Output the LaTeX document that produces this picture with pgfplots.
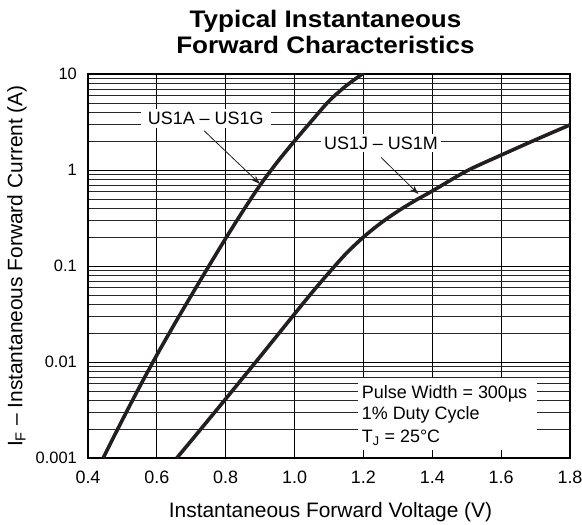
\documentclass[border=0pt]{standalone}
\usepackage{fontspec}
\setmainfont{Liberation Sans}
\newfontfamily\titlefont[FakeStretch=1.09]{Liberation Sans Bold}
\usepackage{pgfplots}
\pgfplotsset{compat=1.18}
\usetikzlibrary{arrows.meta}
\definecolor{curve}{HTML}{231F20}
\begin{document}
\begin{tikzpicture}
\begin{axis}[
  scale only axis, width=482bp, height=384bp,
  xmin=0.4, xmax=1.8, ymin=0.001, ymax=10, ymode=log,
  xtick={0.4,0.6,0.8,1.0,1.2,1.4,1.6,1.8},
  xticklabels={0.4,0.6,0.8,1.0,1.2,1.4,1.6,1.8},
  ytick={0.001,0.01,0.1,1,10},
  yticklabels={0.001,0.01,0.1,1,10},
  minor ytick={0.002,0.003,0.004,0.005,0.006,0.007,0.008,0.009,
               0.02,0.03,0.04,0.05,0.06,0.07,0.08,0.09,
               0.2,0.3,0.4,0.5,0.6,0.7,0.8,0.9,
               2,3,4,5,6,7,8,9},
  grid=both,
  major grid style={black, line width=0.8bp},
  minor grid style={black!85, line width=0.6bp},
  axis line style={line width=2.6bp},
  tick align=inside, major tick length=8bp, minor tick length=0bp,
  tick style={black, line width=0.8bp},
  /pgf/number format/assume math mode=true,
  xticklabel style={font=\fontsize{18}{18}\selectfont, anchor=north, inner sep=0pt, yshift=-13bp},
  yticklabel style={font=\fontsize{16.5}{16.5}\selectfont, anchor=east, inner sep=0pt, xshift=-11bp},
  xlabel={Instantaneous Forward Voltage (V)},
  ylabel={I\textsubscript{F} -- Instantaneous Forward Current (A)},
  every axis x label/.style={at={(rel axis cs:0.5,0)}, anchor=base, yshift=-59bp, xshift=1.5bp, font=\fontsize{21}{21}\selectfont},
  every axis y label/.style={at={(rel axis cs:0,0.5)}, xshift=-65.5bp, anchor=base, rotate=90, font=\fontsize{21}{21}\selectfont},
]
\addplot[curve, line width=3.6bp, smooth, tension=0.5] coordinates {
  (0.444,0.001) (0.50,0.0025) (0.55,0.00553) (0.60,0.01183) (0.65,0.02443)
  (0.70,0.0493) (0.75,0.0984) (0.80,0.1941) (0.85,0.374) (0.90,0.697)
  (0.95,1.211) (1.00,2.009) (1.05,3.258) (1.10,5.224) (1.15,7.551) (1.20,10.19)
};
\addplot[curve, line width=3.6bp, smooth, tension=0.5] coordinates {
  (0.658,0.001) (0.70,0.001517) (0.80,0.00413) (0.90,0.01138) (1.00,0.0317)
  (1.05,0.0526) (1.10,0.0853) (1.15,0.1352) (1.20,0.2) (1.25,0.2793)
  (1.30,0.3724) (1.35,0.4797) (1.40,0.604) (1.50,0.977) (1.60,1.429)
  (1.70,2.065) (1.80,2.951)
};
\coordinate (bl) at (rel axis cs:0,0);
\coordinate (tr) at (rel axis cs:1,1);
\coordinate (tc) at (rel axis cs:0.5,1);
\node[fill=white, inner xsep=7bp, inner ysep=3bp, font=\fontsize{18}{18}\selectfont] at (axis cs:0.742,3.45) {US1A -- US1G};
\node[fill=white, inner xsep=3bp, inner ysep=3bp, font=\fontsize{18}{18}\selectfont] at (axis cs:1.251,1.91) {US1J -- US1M};
\draw[curve, line width=0.8bp, -{Stealth[length=9bp,width=6bp]}] (axis cs:0.737,2.57) -- (axis cs:0.8996,0.715);
\draw[curve, line width=0.8bp, -{Stealth[length=9bp,width=6bp]}] (axis cs:1.251,1.355) -- (axis cs:1.3597,0.562);
\fill[white] (axis cs:1.184,0.00676) rectangle (axis cs:1.704,0.00121);
\node[anchor=base west, inner sep=0pt, font=\fontsize{18}{18}\selectfont] at (axis cs:1.195,0.00419) {Pulse Width = 300µs};
\node[anchor=base west, inner sep=0pt, font=\fontsize{18}{18}\selectfont] at (axis cs:1.195,0.00249) {1\% Duty Cycle};
\node[anchor=base west, inner sep=0pt, font=\fontsize{18}{18}\selectfont] at (axis cs:1.195,0.001445) {T\textsubscript{J} = 25°C};
\end{axis}
\node[anchor=base, inner sep=0pt, font=\titlefont\fontsize{24}{24}\selectfont] at ([xshift=-3.5bp,yshift=46.7bp]tc) {Typical Instantaneous};
\node[anchor=base, inner sep=0pt, font=\titlefont\fontsize{24}{24}\selectfont] at ([xshift=-3.5bp,yshift=20.7bp]tc) {Forward Characteristics};
\pgfresetboundingbox
\path ([xshift=-88bp,yshift=-67bp]bl) rectangle ([xshift=12bp,yshift=74bp]tr);
\end{tikzpicture}
\end{document}
